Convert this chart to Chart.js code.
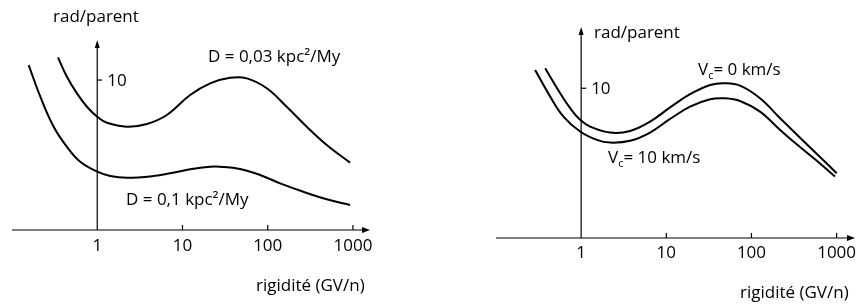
<!DOCTYPE html>
<html>
<head>
<meta charset="utf-8">
<script src="https://cdn.jsdelivr.net/npm/chart.js@4"></script>
<style>
	body { margin: 0; background: #fff; }
	.panel { position: absolute; top: 0; }
</style>
</head>
<body>
<canvas id="diffusionChart" class="panel" style="left:0" width="430" height="308"></canvas>
<canvas id="convectionChart" class="panel" style="left:430px" width="429" height="308"></canvas>
<script>
// axis ticks
const xTicks = [1, 10, 100, 1000];
const yTicks = [10];

// left panel: two diffusion coefficients
const rigD003 = [0.346, 0.441, 0.578, 0.757, 1, 1.3, 2.23, 3.83, 6.56, 12.3, 21.1, 36.3, 56.9, 97.5, 167, 287, 493, 925];
const ratioD003 = [11.51, 10.22, 9.11, 8.22, 7.55, 7.15, 6.89, 7.07, 7.67, 9.0, 9.78, 10.15, 10.11, 9.45, 8.22, 6.89, 5.67, 4.49];
const rigD01 = [0.157, 0.215, 0.308, 0.441, 0.632, 1, 1.42, 2.23, 4.57, 7.17, 12.3, 21.1, 27.7, 47.5, 81.4, 140, 262, 493, 925];
const ratioD01 = [11.0, 8.89, 6.89, 5.55, 4.55, 3.89, 3.6, 3.49, 3.6, 3.78, 4.05, 4.22, 4.22, 4.07, 3.67, 3.11, 2.55, 2.05, 1.67];

// right panel: two convection velocities
const rigV0 = [0.378, 0.567, 0.743, 0.973, 1.275, 2.19, 3.76, 6.45, 11.08, 19.0, 32.7, 49.0, 73.4, 126, 217, 372, 638, 1002];
const ratioV0 = [11.33, 9.67, 8.67, 7.89, 7.44, 7.04, 7.15, 7.77, 8.72, 9.6, 10.22, 10.33, 10.17, 9.33, 8.0, 6.69, 5.41, 4.33];
const rigV10 = [0.288, 0.433, 0.62, 0.973, 1.53, 2.19, 3.76, 6.45, 11.08, 19.0, 32.7, 49.0, 73.4, 126, 217, 372, 638, 957];
const ratioV10 = [11.22, 9.44, 8.11, 7.11, 6.55, 6.37, 6.49, 7.04, 7.95, 8.77, 9.27, 9.33, 9.15, 8.44, 7.22, 6.07, 4.98, 4.11];

const fontFamily = '"Open Sans", sans-serif';
const fontSize = 17;

function toPoints(xs, ys) {
	return xs.map((x, i) => ({ x: x, y: ys[i] }));
}

function curve(xs, ys) {
	return {
		data: toPoints(xs, ys),
		borderColor: '#000',
		borderWidth: 2,
		pointRadius: 0,
		fill: false,
		tension: 0.4
	};
}

// draws crossed axes with arrows, ticks and free labels
function axesPlugin(opts) {
	return {
		id: 'axesPlugin',
		afterDraw(chart) {
			const { ctx, chartArea, scales: { x, y } } = chart;
			const x0 = x.getPixelForValue(1);
			const y0 = y.getPixelForValue(0);
			ctx.save();
			ctx.strokeStyle = '#000';
			ctx.fillStyle = '#000';
			ctx.lineWidth = 1.2;

			// x axis
			ctx.beginPath();
			ctx.moveTo(chartArea.left, y0);
			ctx.lineTo(chartArea.right - 4, y0);
			ctx.stroke();
			ctx.beginPath();
			ctx.moveTo(chartArea.right, y0);
			ctx.lineTo(chartArea.right - 8, y0 - 3);
			ctx.lineTo(chartArea.right - 8, y0 + 3);
			ctx.closePath();
			ctx.fill();

			// y axis
			ctx.beginPath();
			ctx.moveTo(x0, y0);
			ctx.lineTo(x0, chartArea.top + 4);
			ctx.stroke();
			ctx.beginPath();
			ctx.moveTo(x0, chartArea.top);
			ctx.lineTo(x0 - 2.5, chartArea.top + 8);
			ctx.lineTo(x0 + 2.5, chartArea.top + 8);
			ctx.closePath();
			ctx.fill();

			ctx.font = fontSize + 'px ' + fontFamily;
			ctx.textBaseline = 'alphabetic';

			// x ticks
			ctx.textAlign = 'center';
			xTicks.forEach(v => {
				const px = x.getPixelForValue(v);
				if (v !== 1) {
					ctx.beginPath();
					ctx.moveTo(px, y0);
					ctx.lineTo(px, y0 - 5);
					ctx.stroke();
				}
				ctx.fillText(String(v), px, y0 + opts.xLabelGap);
			});

			// y ticks
			ctx.textAlign = 'left';
			yTicks.forEach(v => {
				const py = y.getPixelForValue(v);
				ctx.beginPath();
				ctx.moveTo(x0, py);
				ctx.lineTo(x0 + 5, py);
				ctx.stroke();
				ctx.fillText(String(v), x0 + 10, py + 6);
			});

			// titles and curve labels
			opts.texts.forEach(t => {
				let cx = t.x;
				t.parts.forEach(p => {
					ctx.font = (p.sub ? '11px ' : fontSize + 'px ') + fontFamily;
					ctx.fillText(p.s, cx, t.y + (p.sub ? 4 : 0));
					cx += ctx.measureText(p.s).width + (p.gap || 0);
				});
			});
			ctx.restore();
		}
	};
}

function makeChart(id, datasets, xMax, yMax, padding, opts) {
	const canvas = document.getElementById(id);
	if (!canvas) return;
	new Chart(canvas.getContext('2d'), {
		type: 'line',
		data: { datasets: datasets },
		options: {
			responsive: false,
			animation: false,
			devicePixelRatio: 1,
			layout: { padding: padding },
			plugins: {
				legend: { display: false },
				tooltip: { enabled: false }
			},
			scales: {
				x: { type: 'logarithmic', min: 0.1, max: xMax, display: false },
				y: { type: 'linear', min: 0, max: yMax, display: false }
			}
		},
		plugins: [axesPlugin(opts)]
	});
}

makeChart('diffusionChart',
	[curve(rigD003, ratioD003), curve(rigD01, ratioD01)],
	1585, 12.67,
	{ left: 12, right: 60, top: 40, bottom: 78 },
	{
		xLabelGap: 21,
		texts: [
			{ x: 53, y: 22, parts: [{ s: 'rad/parent' }] },
			{ x: 208, y: 62, parts: [{ s: 'D = 0,03 kpc²/My' }] },
			{ x: 126, y: 205, parts: [{ s: 'D = 0,1 kpc²/My' }] },
			{ x: 256, y: 291, parts: [{ s: 'rigidité (GV/n)' }] }
		]
	});

makeChart('convectionChart',
	[curve(rigV0, ratioV0), curve(rigV10, ratioV10)],
	1644, 14.09,
	{ left: 66, right: 4, top: 27, bottom: 70 },
	{
		xLabelGap: 20,
		texts: [
			{ x: 164, y: 38, parts: [{ s: 'rad/parent' }] },
			{ x: 268, y: 75, parts: [{ s: 'V' }, { s: 'c', sub: true }, { s: '= 0 km/s' }] },
			{ x: 178, y: 163, parts: [{ s: 'V' }, { s: 'c', sub: true }, { s: '= 10 km/s' }] },
			{ x: 310, y: 298, parts: [{ s: 'rigidité (GV/n)' }] }
		]
	});
</script>
</body>
</html>
